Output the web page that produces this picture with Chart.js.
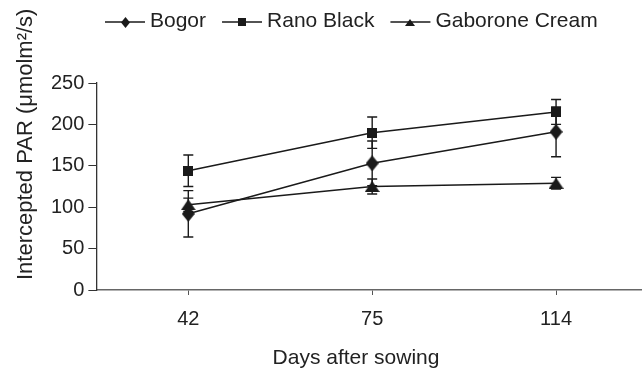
<!DOCTYPE html>
<html lang="en">
<head>
    <meta charset="UTF-8">
    <title>Intercepted PAR</title>
    <script src="https://cdn.jsdelivr.net/npm/chart.js"></script>
    <style>
        html, body { margin: 0; padding: 0; background: #fff; overflow: hidden; }
    </style>
</head>
<body>
    <!-- the x axis runs a little past the right edge of the figure, so the canvas is wider than the window -->
    <canvas id="chart" width="648" height="371"></canvas>

    <script>
        // data
        const days = ['42', '75', '114'];
        const bogor = [92, 153, 191];
        const bogorErr = [28, 27, 30];
        const ranoBlack = [144, 190, 215];
        const ranoBlackErr = [19, 19, 15];
        const gaborone = [103, 125, 129];
        const gaboroneErr = [8, 9, 7];
        const yMax = 250;
        const yStep = 50;

        const ink = '#1a1a1a';
        const fontFamily = '"Liberation Sans", Arial, sans-serif';

        // marker images (point style)
        function marker(shape, w, h) {
            const c = document.createElement('canvas');
            c.width = w;
            c.height = h;
            const g = c.getContext('2d');
            g.fillStyle = ink;
            g.beginPath();
            if (shape === 'diamond') {
                g.moveTo(w / 2, 0); g.lineTo(w, h / 2); g.lineTo(w / 2, h); g.lineTo(0, h / 2);
            } else if (shape === 'square') {
                g.rect(0, 0, w, h);
            } else {
                g.moveTo(w / 2, 0); g.lineTo(w, h); g.lineTo(0, h);
            }
            g.closePath();
            g.fill();
            return c;
        }

        // error bars, drawn under the lines and markers
        const errorBars = {
            id: 'errorBars',
            beforeDatasetsDraw(chart) {
                const ctx = chart.ctx;
                const y = chart.scales.y;
                ctx.save();
                ctx.strokeStyle = ink;
                ctx.lineWidth = 1.4;
                chart.data.datasets.forEach((ds, i) => {
                    chart.getDatasetMeta(i).data.forEach((pt, j) => {
                        const top = y.getPixelForValue(ds.data[j] + ds.errors[j]);
                        const bot = y.getPixelForValue(ds.data[j] - ds.errors[j]);
                        ctx.beginPath();
                        ctx.moveTo(pt.x, top); ctx.lineTo(pt.x, bot);
                        ctx.moveTo(pt.x - 5, top); ctx.lineTo(pt.x + 5, top);
                        ctx.moveTo(pt.x - 5, bot); ctx.lineTo(pt.x + 5, bot);
                        ctx.stroke();
                    });
                });
                ctx.restore();
            }
        };

        // legend row (line - marker - line, then label) and the two axis titles
        const extras = {
            id: 'extras',
            afterDraw(chart) {
                const ctx = chart.ctx;
                ctx.save();
                ctx.font = '21px ' + fontFamily;
                ctx.fillStyle = '#222';
                ctx.textBaseline = 'alphabetic';
                ctx.textAlign = 'left';
                let x = 105;
                const lineY = 22;
                chart.data.datasets.forEach(ds => {
                    ctx.strokeStyle = ink;
                    ctx.lineWidth = 1.5;
                    ctx.beginPath();
                    ctx.moveTo(x, lineY);
                    ctx.lineTo(x + 40, lineY);
                    ctx.stroke();
                    const m = ds.legendMarker;
                    ctx.drawImage(m, Math.round(x + 20 - m.width / 2), Math.round(lineY - m.height / 2));
                    ctx.fillText(ds.label, x + 45, 26.5);
                    x += 45 + ctx.measureText(ds.label).width + 16;
                });

                // x title
                ctx.textAlign = 'center';
                ctx.textBaseline = 'middle';
                ctx.fillText('Days after sowing', 356, 358);

                // y title
                ctx.font = '22px ' + fontFamily;
                ctx.textAlign = 'left';
                ctx.textBaseline = 'alphabetic';
                ctx.translate(32, 280);
                ctx.rotate(-Math.PI / 2);
                ctx.fillText('Intercepted PAR (\u03bcmolm\u00b2/s)', 0, 0);
                ctx.restore();
            }
        };

        new Chart(document.getElementById('chart'), {
            type: 'line',
            data: {
                labels: days,
                datasets: [
                    {
                        label: 'Bogor',
                        data: bogor,
                        errors: bogorErr,
                        pointStyle: marker('diamond', 13, 16),
                        legendMarker: marker('diamond', 9, 11)
                    },
                    {
                        label: 'Rano Black',
                        data: ranoBlack,
                        errors: ranoBlackErr,
                        pointStyle: marker('square', 10, 10),
                        legendMarker: marker('square', 8, 8)
                    },
                    {
                        label: 'Gaborone Cream',
                        data: gaborone,
                        errors: gaboroneErr,
                        pointStyle: marker('triangle', 15, 11),
                        legendMarker: marker('triangle', 10, 7)
                    }
                ].map(ds => Object.assign({
                    borderColor: ink,
                    backgroundColor: ink,
                    borderWidth: 1.5,
                    tension: 0,
                    pointRadius: 7
                }, ds))
            },
            options: {
                responsive: false,
                animation: false,
                layout: { autoPadding: false, padding: { left: 47, top: 83, right: 0, bottom: 28 } },
                plugins: {
                    legend: { display: false },
                    tooltip: { enabled: false }
                },
                scales: {
                    x: {
                        offset: true,
                        grid: { drawOnChartArea: false, drawTicks: true, tickLength: 5, color: '#555' },
                        border: { color: '#666', width: 1.5 },
                        ticks: { color: '#222', padding: 12, font: { size: 20, family: fontFamily } }
                    },
                    y: {
                        min: 0,
                        max: yMax,
                        ticks: { stepSize: yStep, color: '#222', padding: 4, font: { size: 20, family: fontFamily } },
                        grid: { drawOnChartArea: false, drawTicks: true, tickLength: 8, color: '#333' },
                        border: { color: '#333', width: 1.3 }
                    }
                }
            },
            plugins: [errorBars, extras]
        });
    </script>
</body>
</html>
